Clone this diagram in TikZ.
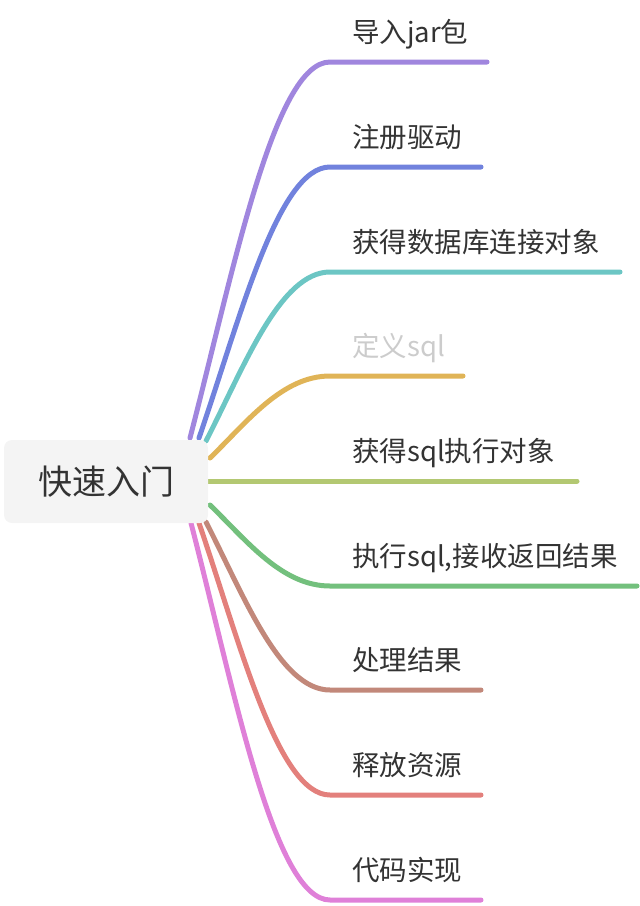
\documentclass[tikz,border=0pt]{standalone}
\usepackage{fontspec}
\newfontfamily\cjk{Noto Sans CJK SC}
\pgfdeclarelayer{bg}
\pgfsetlayers{bg,main}
\definecolor{txt}{HTML}{333333}
\definecolor{txtlight}{HTML}{CCCCCC}
\definecolor{rootfill}{HTML}{F4F4F4}
\definecolor{c1}{HTML}{A086DE}
\definecolor{c2}{HTML}{7182DD}
\definecolor{c3}{HTML}{6CC6C4}
\definecolor{c4}{HTML}{E0B457}
\definecolor{c5}{HTML}{B3C872}
\definecolor{c6}{HTML}{73C07D}
\definecolor{c7}{HTML}{C2887A}
\definecolor{c8}{HTML}{E3807C}
\definecolor{c9}{HTML}{DF80D8}
\begin{document}
\begin{tikzpicture}[x=1pt,y=-1pt,
  branch/.style={line width=5pt,line cap=round},
  leaf/.style={anchor=base west,inner sep=0pt,text=txt,font=\cjk\fontsize{27.5}{33}\selectfont},
  rootbox/.style={fill=rootfill,rounded corners=8pt,minimum width=204pt,minimum height=83pt,inner sep=0pt}]
\useasboundingbox (0,0) rectangle (640,906);
\node[rootbox] (rootbg) at (106,481.5) {};
\node[anchor=base,inner sep=0pt,text=txt,font=\cjk\fontsize{34}{40}\selectfont] (root) at (106,494) {快速入门};
% leaf labels
\node[leaf] (t1) at (352,42) {导入jar包};
\node[leaf] (t2) at (352,147) {注册驱动};
\node[leaf] (t3) at (352,252) {获得数据库连接对象};
\node[leaf,text=txtlight] (t4) at (352,356) {定义sql};
\node[leaf] (t5) at (352,461) {获得sql执行对象};
\node[leaf] (t6) at (352,566) {执行sql,接收返回结果};
\node[leaf] (t7) at (352,670) {处理结果};
\node[leaf] (t8) at (352,775) {释放资源};
\node[leaf] (t9) at (352,880) {代码实现};
% start, bend and end points
\coordinate (s1) at (190,438); \coordinate (b1) at (330,62);  \coordinate (e1) at (487,62);
\coordinate (s2) at (199,438); \coordinate (b2) at (330,167); \coordinate (e2) at (481,167);
\coordinate (s3) at (206,441); \coordinate (b3) at (330,272); \coordinate (e3) at (620,272);
\coordinate (s4) at (210,458); \coordinate (b4) at (330,376); \coordinate (e4) at (463,376);
\coordinate (s5) at (200,481); \coordinate (e5) at (577,481);
\coordinate (s6) at (210,505); \coordinate (b6) at (330,586); \coordinate (e6) at (637,586);
\coordinate (s7) at (206,522); \coordinate (b7) at (330,690); \coordinate (e7) at (481,690);
\coordinate (s8) at (199,523); \coordinate (b8) at (330,795); \coordinate (e8) at (481,795);
\coordinate (s9) at (191,523); \coordinate (b9) at (330,900); \coordinate (e9) at (481,900);
\begin{pgfonlayer}{bg}
\draw[branch,c1] (s1) .. controls (233,273) and (274,62) .. (b1) -- (e1);
\draw[branch,c2] (s2) .. controls (240,319) and (278,167) .. (b2) -- (e2);
\draw[branch,c3] (s3) .. controls (244,367) and (280,272) .. (b3) -- (e3);
\draw[branch,c4] (s4) .. controls (247,422) and (282,376) .. (b4) -- (e4);
\draw[branch,c5] (s5) -- (e5);
\draw[branch,c6] (s6) .. controls (247,541) and (282,586) .. (b6) -- (e6);
\draw[branch,c7] (s7) .. controls (244,596) and (280,690) .. (b7) -- (e7);
\draw[branch,c8] (s8) .. controls (240,643) and (278,795) .. (b8) -- (e8);
\draw[branch,c9] (s9) .. controls (234,689) and (274,900) .. (b9) -- (e9);
\end{pgfonlayer}
\end{tikzpicture}
\end{document}
